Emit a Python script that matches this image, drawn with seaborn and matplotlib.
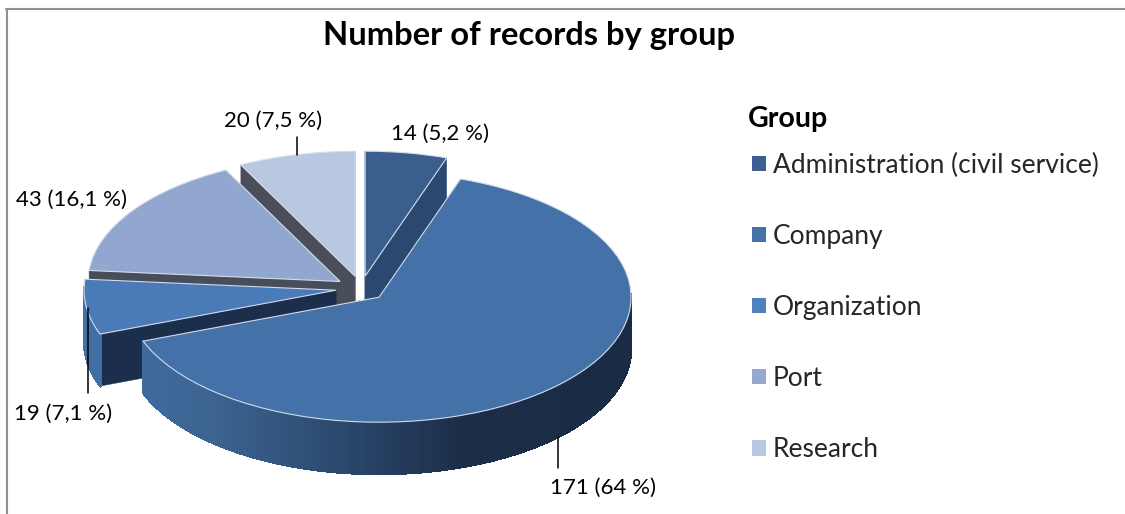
import numpy as np
import matplotlib
matplotlib.use('Agg')
import matplotlib.pyplot as plt
from matplotlib.patches import Patch
import seaborn as sns

groups = ['Administration (civil service)', 'Company', 'Organization', 'Port', 'Research']
counts = [14, 171, 19, 43, 20]
count_labels = ['14 (5,2 %)', '171 (64 %)', '19 (7,1 %)', '43 (16,1 %)', '20 (7,5 %)']
top_colors = ['#3a5f8e', '#4471a7', '#4a7ab8', '#92a7d0', '#b9c7e1']
legend_colors = ['#3b5f8e', '#4573a7', '#4f81bd', '#95a9d0', '#b9c7e1']
face_colors = ['#2a4870', '#1c3048', '#1b2f4c', '#474d59', '#4a4e59']
title = 'Number of records by group'

W, H = 1125, 514
cx, cy = 361, 288.5  # pie centre, pixels
rx, ry = 252, 125
depth = 52 / ry

sns.set_theme(style='white')
plt.rcParams['font.family'] = ['Lato', 'DejaVu Sans']


def px(x, y):
    return (x - cx) / rx, (cy - y) / ry


fig = plt.figure(figsize=[W / 100, H / 100], dpi=100)
ax = fig.add_axes([0, 0, 1, 1])

wedges, _ = ax.pie(counts, explode=[0.1] * len(counts), startangle=90, counterclock=False,
                   colors=sns.color_palette(top_colors),
                   wedgeprops=dict(edgecolor='#d3dcea', linewidth=0.8))
ax.set_aspect('auto')
ax.set_xlim(px(0, 0)[0], px(W, 0)[0])
ax.set_ylim(px(0, H)[1], px(0, 0)[1])
ax.axis('off')

# side of the big slice goes dark from left to right
ramp = sns.blend_palette(['#4270a4', '#3d6492', '#2c4a70', '#1b2e48', '#1a2c45'], 200)
draw_order = [4, 3, 0, 2, 1]
for k, i in enumerate(draw_order):
    w = wedges[i]
    z = 2 + 2 * k
    w.set_zorder(z + 1)
    x0, y0 = w.center
    for t in [w.theta1, w.theta2]:
        xe = x0 + np.cos(np.radians(t))
        ye = y0 + np.sin(np.radians(t))
        ax.fill([x0, xe, xe, x0], [y0, ye, ye - depth, y0 - depth],
                color=face_colors[i], lw=0.3, zorder=z)
    # no antialiasing on the strips, it leaves stripes at the seams
    angles = np.arange(w.theta1, w.theta2 + 0.5, 0.5)
    for a, b in zip(angles[:-1], angles[1:]):
        if np.sin(np.radians(a)) > 0.02 and np.sin(np.radians(b)) > 0.02:
            continue
        xs = x0 + np.cos(np.radians([a, b]))
        ys = y0 + np.sin(np.radians([a, b]))
        pos = np.clip((xs.mean() + 1.1) / 2.0, 0, 0.999)
        ax.fill([xs[0], xs[1], xs[1], xs[0]], [ys[0], ys[1], ys[1] - depth, ys[0] - depth],
                color=ramp[int(pos * 200)], lw=0.8, antialiased=False, zorder=z)

# leader lines
for x1, y1, x2, y2 in [(297, 137, 297, 155), (88, 308, 88, 393), (558, 437, 558, 468)]:
    p, q = px(x1, y1), px(x2, y2)
    ax.plot([p[0], q[0]], [p[1], q[1]], color='black', lw=1.1, zorder=20)

label_pos = [(440, 134), (603, 488), (63, 414), (71, 200), (273, 121)]
for lab, (x, y) in zip(count_labels, label_pos):
    fig.text(x / W, 1 - y / H, lab, ha='center', va='center', fontsize=16, color='black')

fig.text(529 / W, 1 - 36 / H, title, ha='center', va='center', fontsize=23.6, fontweight='bold', color='black')
fig.text(748 / W, 1 - 118.5 / H, 'Group', ha='left', va='center', fontsize=20.5, fontweight='bold', color='black')

handles = [Patch(facecolor=c, edgecolor='none') for c in legend_colors]
leg = ax.legend(handles, groups, loc='upper left', bbox_to_anchor=(752 / W, 1 - 152.5 / H),
                bbox_transform=fig.transFigure, frameon=False, fontsize=19,
                handlelength=0.52, handleheight=0.52, handletextpad=0.28, labelspacing=1.75,
                borderpad=0, borderaxespad=0)
leg.set_zorder(30)

# chart frame, only left and top are in the crop
fig.add_artist(plt.Line2D([6.5 / W, 6.5 / W], [0, 1 - 9 / H], color='#909090', lw=1.5))
fig.add_artist(plt.Line2D([6 / W, 1], [1 - 9 / H, 1 - 9 / H], color='#909090', lw=1.5))

fig.savefig('out.png', dpi=100, facecolor='white')
